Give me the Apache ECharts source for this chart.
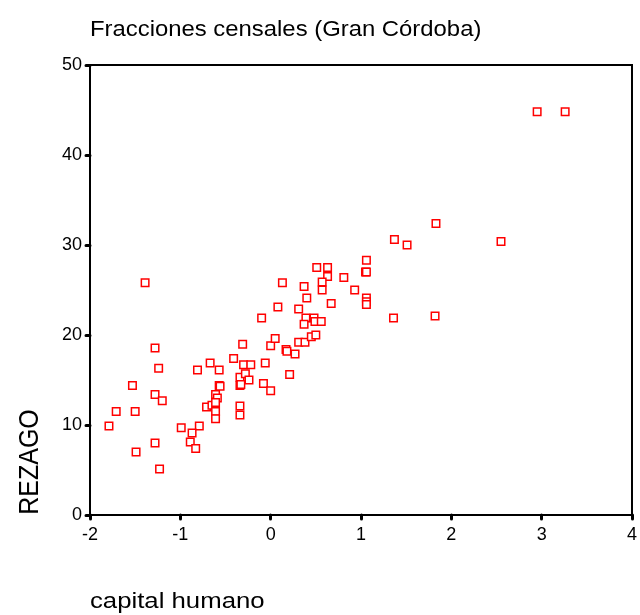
<!DOCTYPE html>
<html>
<head>
<meta charset="utf-8">
<script src="https://cdn.jsdelivr.net/npm/echarts@6/dist/echarts.min.js"></script>
<style>
  html, body { margin: 0; padding: 0; background: #fff; }
  #chart { width: 640px; height: 615px; }
</style>
</head>
<body>
<div id="chart"></div>
<script>
// valores (fracciones censales)
var capitalHumano = [
  -1.79, -1.71, -1.50, -1.53, -1.49, -1.39, -1.28, -1.24, -1.28, -1.20,
  -1.28, -1.23, -0.99, -0.79, -0.87, -0.89, -0.83, -0.81, -0.67, -0.57,
  -0.71, -0.65, -0.61, -0.59, -0.61, -0.61, -0.61, -0.57, -0.56, -0.41,
  -0.34, -0.28, -0.24, -0.34, -0.33, -0.34, -0.34, -0.31, -0.30, -0.22,
  -0.06, -0.08, 0.00, 0.00, 0.05, -0.10, 0.08, 0.13, 0.17, 0.18,
  0.27, 0.21, 0.31, 0.38, 0.45, 0.50, 0.31, 0.39, 0.48, 0.49,
  0.56, 0.37, 0.37, 0.40, 0.51, 0.63, 0.63, 0.57, 0.57, 0.67,
  0.81, 0.93, 1.06, 1.05, 1.06, 1.06, 1.06, 1.06, 1.36, 1.82,
  1.37, 1.51, 1.83, 2.55, 2.95, 3.26
];
var rezago = [
  9.9, 11.5, 11.5, 14.4, 7.0, 25.8, 18.55, 16.3, 13.4, 12.7,
  8.0, 5.1, 9.7, 9.9, 9.1, 8.1, 7.4, 16.1, 16.9, 16.1,
  12.0, 12.2, 13.4, 13.0, 12.5, 11.5, 10.7, 14.4, 14.3, 17.4,
  15.3, 15.7, 15.0, 14.4, 14.5, 12.1, 11.1, 18.96, 16.7, 16.7,
  16.9, 14.6, 13.8, 18.8, 19.6, 21.9, 23.1, 25.8, 18.4, 18.2,
  17.9, 15.6, 19.2, 19.2, 19.8, 20.0, 22.9, 21.9, 21.9, 21.5,
  21.5, 21.2, 25.4, 24.1, 27.5, 27.5, 26.5, 25.9, 25.0, 23.5,
  26.4, 25.0, 28.3, 27.0, 27.0, 24.1, 23.7, 23.4, 21.9, 22.1,
  30.6, 30.0, 32.4, 30.4, 44.8, 44.8
];
var xTicks = [-2, -1, 0, 1, 2, 3, 4];
var yTicks = [0, 10, 20, 30, 40, 50];

var puntos = [];
capitalHumano.forEach(function (x, i) {
  puntos.push([x, rezago[i]]);
});

var fuente = '"Liberation Sans", Arial, sans-serif';
var myChart = echarts.init(document.getElementById("chart"));
myChart.setOption({
  animation: false,
  backgroundColor: "#fff",
  grid: {
    left: 90,
    right: 4,
    top: 65,
    bottom: 100,
    show: true,
    borderColor: "#000",
    borderWidth: 2,
  },
  xAxis: {
    type: "value",
    min: xTicks[0],
    max: xTicks[xTicks.length - 1],
    interval: 1,
    axisLine: { onZero: false, lineStyle: { color: "#000", width: 2 } },
    axisTick: { length: 4, lineStyle: { color: "#000", width: 3, cap: "round" } },
    axisLabel: { color: "#000", fontFamily: fuente, fontSize: 18, margin: 11 },
    splitLine: { show: false },
  },
  yAxis: {
    type: "value",
    min: yTicks[0],
    max: yTicks[yTicks.length - 1],
    interval: 10,
    axisLine: { onZero: false, lineStyle: { color: "#000", width: 2 } },
    axisTick: { length: 4, lineStyle: { color: "#000", width: 3, cap: "round" } },
    axisLabel: { color: "#000", fontFamily: fuente, fontSize: 18, margin: 8 },
    splitLine: { show: false },
  },
  graphic: [
    {
      // titulo
      type: "text",
      x: 90,
      y: 30,
      scaleX: 1.085,
      style: {
        text: "Fracciones censales (Gran Córdoba)",
        fontFamily: fuente,
        fontSize: 22,
        fill: "#000",
        align: "left",
        verticalAlign: "middle",
      },
    },
    {
      type: "text",
      x: 30,
      y: 462,
      rotation: Math.PI / 2,
      scaleY: 1.12,
      style: {
        text: "REZAGO",
        fontFamily: fuente,
        fontSize: 25,
        fill: "#000",
        align: "center",
        verticalAlign: "middle",
      },
    },
    {
      type: "text",
      x: 90,
      y: 602,
      scaleX: 1.17,
      style: {
        text: "capital humano",
        fontFamily: fuente,
        fontSize: 22,
        fill: "#000",
        align: "left",
        verticalAlign: "middle",
      },
    },
  ],
  series: [
    {
      type: "scatter",
      symbol: "rect",
      symbolSize: 7.5,
      itemStyle: {
        color: "#fff",
        borderColor: "#ff0000",
        borderWidth: 1.5,
        opacity: 1,
      },
      data: puntos,
    },
  ],
});
</script>
</body>
</html>
